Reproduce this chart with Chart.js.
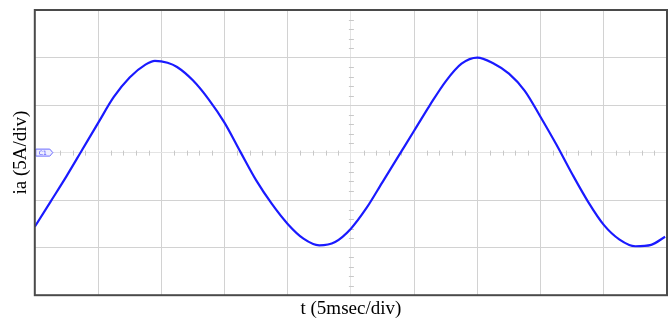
<!DOCTYPE html>
<html>
<head>
<meta charset="utf-8">
<script src="https://cdn.jsdelivr.net/npm/chart.js@4/dist/chart.umd.min.js"></script>
<style>
  html, body { margin: 0; padding: 0; background: #fff; }
  #wrap { width: 668px; height: 321px; }
</style>
</head>
<body>
<div id="wrap"><canvas id="scope"></canvas></div>
<script>
// scope trace: time in ms (5 ms/div), current in A (5 A/div)
const timeMs = [0, 1.25, 2.5, 3.75, 5, 6.25, 7.5, 8.75, 9.5, 10.5, 11.25, 12.5, 13.75, 15,
  16.25, 17.5, 18.75, 20, 21.25, 22.5, 23.75, 25, 26.25, 27.5, 28.75, 30, 31.25, 32.5,
  33.75, 35, 36.25, 37.5, 38.75, 40, 41.25, 42.5, 43.75, 45, 46.25, 47.5, 48.75, 49.85];
const currentA = [-7.8, -5.15, -2.5, 0.3, 3.1, 5.85, 7.9, 9.25, 9.65, 9.45, 9.0, 7.6, 5.6, 3.15,
  0.1, -2.9, -5.4, -7.5, -9.05, -9.75, -9.4, -8.0, -5.8, -3.1, -0.4, 2.3, 5.0, 7.5,
  9.35, 10.0, 9.4, 8.3, 6.5, 3.75, 0.85, -2.25, -5.15, -7.6, -9.15, -9.85, -9.7, -8.85];

const xRange = [0, 50];   // 10 divisions
const yRange = [-15, 15]; // 6 divisions
const divX = 5, divY = 5;

const xLabel = 't (5msec/div)';
const yLabel = 'ia (5A/div)';

const points = timeMs.map((t, i) => ({ x: t, y: currentA[i] }));

const GRID = '#d2d2d2';
const CENTER = '#e4e4e4';

// frame, centre crosshair ticks and the channel marker
const scopeDecor = {
    id: 'scopeDecor',
    beforeDatasetsDraw(chart) {
        const { ctx, scales: { x, y } } = chart;
        const cx = x.getPixelForValue((xRange[0] + xRange[1]) / 2);
        const cy = y.getPixelForValue(0);
        ctx.save();
        ctx.strokeStyle = '#c8c8c8';
        ctx.lineWidth = 1;
        ctx.beginPath();
        for (let v = xRange[0] + 1; v < xRange[1]; v += 1) {
            if (v % divX === 0) continue;
            const px = Math.round(x.getPixelForValue(v)) + 0.5;
            ctx.moveTo(px, cy - 2); ctx.lineTo(px, cy + 3);
        }
        for (let v = yRange[0] + 1; v < yRange[1]; v += 1) {
            if (v % divY === 0) continue;
            const py = Math.round(y.getPixelForValue(v)) + 0.5;
            ctx.moveTo(cx - 2, py); ctx.lineTo(cx + 3, py);
        }
        ctx.stroke();
        ctx.restore();
    },
    afterDraw(chart) {
        const { ctx, chartArea: a, scales: { y } } = chart;
        const cy = y.getPixelForValue(0);
        ctx.save();
        // marker tag
        const l = a.left + 1, w = 17, h = 7;
        ctx.beginPath();
        ctx.moveTo(l, cy - h / 2);
        ctx.lineTo(l + w - 3, cy - h / 2);
        ctx.lineTo(l + w, cy);
        ctx.lineTo(l + w - 3, cy + h / 2);
        ctx.lineTo(l, cy + h / 2);
        ctx.closePath();
        ctx.fillStyle = '#eeeeff';
        ctx.fill();
        ctx.strokeStyle = '#6c6cff';
        ctx.lineWidth = 1;
        ctx.stroke();
        ctx.fillStyle = '#4a4aff';
        ctx.font = '6px "DejaVu Sans"';
        ctx.textBaseline = 'middle';
        ctx.fillText('C1', l + 3, cy + 0.5);
        // outer frame
        ctx.strokeStyle = '#4a4a4a';
        ctx.lineWidth = 2;
        ctx.strokeRect(a.left, a.top, a.right - a.left, a.bottom - a.top);
        ctx.restore();
    }
};

new Chart(document.getElementById('scope'), {
    type: 'line',
    data: {
        datasets: [{
            data: points,
            borderColor: '#1a1aff',
            borderWidth: 2.2,
            cubicInterpolationMode: 'monotone',
            pointRadius: 0,
            fill: false
        }]
    },
    options: {
        responsive: true,
        maintainAspectRatio: false,
        animation: false,
        layout: { padding: { top: 10, right: 1, left: 0, bottom: 0 }, autoPadding: false },
        plugins: { legend: { display: false }, tooltip: { enabled: false } },
        scales: {
            x: {
                type: 'linear',
                min: xRange[0], max: xRange[1],
                ticks: { display: false, stepSize: divX },
                grid: {
                    drawTicks: false,
                    color: c => c.tick && c.tick.value === 25 ? CENTER : GRID,
                    lineWidth: 1
                },
                border: { display: false },
                title: {
                    display: true, text: xLabel, color: '#000',
                    font: { family: '"Liberation Serif", "Times New Roman", serif', size: 19 },
                    padding: { top: 2, bottom: 1 }
                }
            },
            y: {
                min: yRange[0], max: yRange[1],
                ticks: { display: false, stepSize: divY },
                grid: {
                    drawTicks: false,
                    color: c => c.tick && c.tick.value === 0 ? CENTER : GRID,
                    lineWidth: 1
                },
                border: { display: false },
                title: {
                    display: true, text: yLabel, color: '#000',
                    font: { family: '"Liberation Serif", "Times New Roman", serif', size: 19 },
                    padding: { top: 10, bottom: 2 }
                }
            }
        }
    },
    plugins: [scopeDecor]
});
</script>
</body>
</html>
